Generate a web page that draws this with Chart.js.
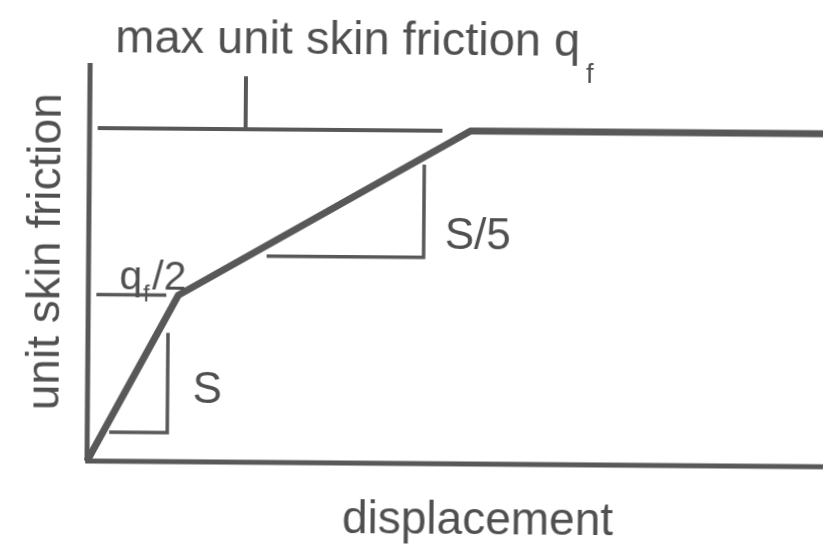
<!DOCTYPE html>
<html>
<head>
<meta charset="utf-8">
<style>
  html, body { margin: 0; padding: 0; background: #fff; overflow: hidden; }
  #wrap { width: 823px; height: 550px; transform-origin: 87px 461px; transform: rotate(0.45deg); }
  canvas { display: block; }
</style>
<script src="https://cdn.jsdelivr.net/npm/chart.js@4/dist/chart.umd.min.js"></script>
</head>
<body>
<div id="wrap"><canvas id="c" width="823" height="550"></canvas></div>
<script>
// Trilinear t-z curve: displacement (arbitrary units) vs unit skin friction (fraction of q_f)
const curveDisplacement = [0, 1.0, 4.233, 8.4];
const curveFriction     = [0, 0.5, 1.0, 1.0];

// Axes of the sketch
const frictionAxis     = [[0, 0], [0, 1.195]];
const displacementAxis = [[-0.02, 0], [8.4, 0]];

// q_f reference line with its leader, and the q_f/2 marker
const qfLine     = [[0.09, 1.0], [3.92, 1.0]];
const qfLeader   = [[1.733, 1.0], [1.733, 1.159]];
const halfQfLine = [[0.09, 0.5], [0.867, 0.5]];

// Slope triangles for S and S/5
const slopeS     = [[0.244, 0.087], [0.889, 0.087], [0.889, 0.387]];
const slopeSFive = [[1.978, 0.619], [3.722, 0.619], [3.722, 0.898]];

const INK = '#585858';
const TEXT = '#505050';

const pts = arr => arr.map(([x, y]) => ({ x, y }));
const seg = (data, width) => ({
  data: pts(data),
  showLine: true,
  borderColor: INK,
  borderWidth: width,
  pointRadius: 0,
  borderCapStyle: 'butt',
  borderJoinStyle: 'miter',
  tension: 0,
  clip: false
});

const labels = {
  id: 'sketchLabels',
  afterDraw(chart) {
    const ctx = chart.ctx;
    const fam = '"Liberation Sans", Arial, sans-serif';
    ctx.save();
    ctx.fillStyle = TEXT;
    ctx.textBaseline = 'alphabetic';

    // heading with subscript
    ctx.textAlign = 'left';
    ctx.font = '47px ' + fam;
    const head = 'max unit skin friction q';
    ctx.fillText(head, 112, 52);
    const hw = ctx.measureText(head).width;
    ctx.font = '27px ' + fam;
    ctx.fillText('f', 112 + hw + 6, 79);

    // axis titles
    ctx.font = '46px ' + fam;
    ctx.textAlign = 'center';
    ctx.fillText('displacement', 478, 531);
    ctx.save();
    ctx.translate(58, 252);
    ctx.rotate(-Math.PI / 2);
    ctx.fillText('unit skin friction', 0, 0);
    ctx.restore();

    // slope labels
    ctx.font = '44px ' + fam;
    ctx.textAlign = 'left';
    ctx.fillText('S/5', 443, 246);
    ctx.fillText('S', 192, 402);

    // q_f/2 marker label
    ctx.font = '41px ' + fam;
    ctx.fillText('q', 118, 289);
    const qw = ctx.measureText('q').width;
    ctx.font = '24px ' + fam;
    ctx.fillText('f', 118 + qw + 1, 301);
    ctx.font = '41px ' + fam;
    ctx.fillText('/2', 118 + qw + 10, 289);
    ctx.restore();
  }
};

new Chart(document.getElementById('c'), {
  type: 'scatter',
  data: {
    datasets: [
      seg(frictionAxis, 5),
      seg(displacementAxis, 5),
      seg(qfLine, 4),
      seg(qfLeader, 4),
      seg(halfQfLine, 3.5),
      seg(slopeS, 3.5),
      seg(slopeSFive, 3.5),
      seg(curveDisplacement.map((x, i) => [x, curveFriction[i]]), 7)
    ]
  },
  options: {
    responsive: false,
    animation: false,
    events: [],
    layout: { padding: 0 },
    plugins: { legend: { display: false }, tooltip: { enabled: false }, title: { display: false } },
    scales: {
      x: { type: 'linear', display: false, min: -87 / 90, max: (823 - 87) / 90 },
      y: { type: 'linear', display: false, min: -(550 - 461) / 333, max: 461 / 333 }
    }
  },
  plugins: [labels]
});
</script>
</body>
</html>
